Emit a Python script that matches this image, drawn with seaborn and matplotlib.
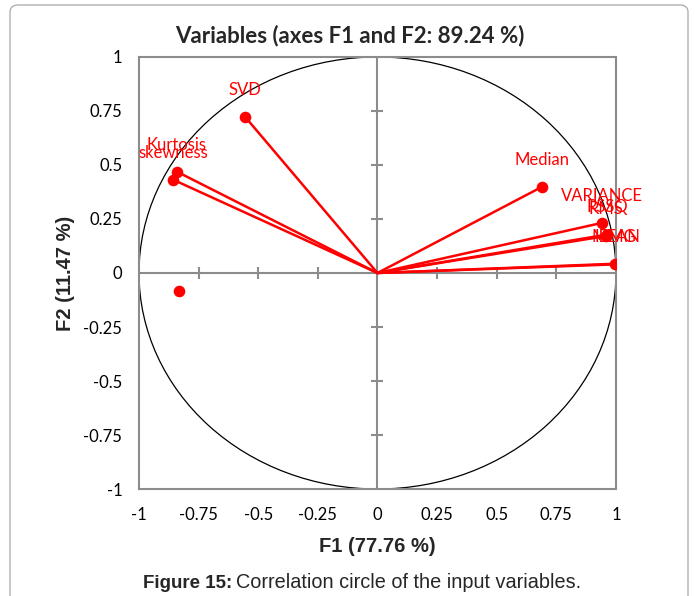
import numpy as np
import pandas as pd
import matplotlib
matplotlib.use("Agg")
import matplotlib.pyplot as plt
import seaborn as sns
from matplotlib.patches import Circle, FancyBboxPatch

# Variable loadings on the first two factors
variables = ["SVD", "Kurtosis", "skewness", "", "Median", "VARIANCE", "RSSQ", "RMS", "MEAN", "IEMG"]
f1 = [-0.556, -0.841, -0.857, -0.832, 0.690, 0.941, 0.963, 0.958, 0.999, 0.997]
f2 = [0.724, 0.469, 0.432, -0.084, 0.399, 0.232, 0.178, 0.171, 0.043, 0.040]
with_vector = [True, True, True, False, True, True, True, True, True, True]

tick_values = [-1, -0.75, -0.5, -0.25, 0, 0.25, 0.5, 0.75, 1]
tick_labels = ["-1", "-0.75", "-0.5", "-0.25", "0", "0.25", "0.5", "0.75", "1"]

df = pd.DataFrame({"variable": variables, "F1": f1, "F2": f2, "vector": with_vector})

sns.set_theme(style="white")
plt.rcParams["font.family"] = ["Liberation Sans", "DejaVu Sans"]
chart_font = ["Lato", "DejaVu Sans"]

fig = plt.figure(figsize=(6.95, 5.96), dpi=100)
ax = fig.add_axes([0.2, 0.1795, 0.6863, 0.7249])

# outer frame around the figure
frame_top = 1 - 5 / 596
frame = FancyBboxPatch((10 / 695, -0.05), 678 / 695, frame_top + 0.05,
                       boxstyle="round,pad=0,rounding_size=0.012",
                       transform=fig.transFigure, fill=False,
                       edgecolor="#b0b0b0", linewidth=1.0, zorder=0)
fig.patches.append(frame)

ax.set_xlim(-1, 1)
ax.set_ylim(-1, 1)

red = "#ff0000"
axis_grey = "#8c8c8c"

# central axes cross with tick marks
ax.axhline(0, color=axis_grey, lw=1.5, zorder=1)
ax.axvline(0, color=axis_grey, lw=1.5, zorder=1)
inner = [t for t in tick_values if t not in (-1, 0, 1)]
ax.plot(inner, [0] * len(inner), linestyle="none", marker="|", markersize=9,
        markeredgewidth=1.5, color=axis_grey, zorder=1)
ax.plot([0] * len(inner), inner, linestyle="none", marker="_", markersize=9,
        markeredgewidth=1.5, color=axis_grey, zorder=1)

# unit correlation circle
ax.add_patch(Circle((0, 0), 1, fill=False, edgecolor="black", lw=0.9, zorder=2))

# vectors from the origin
for _, row in df[df["vector"]].iterrows():
    ax.plot([0, row["F1"]], [0, row["F2"]], color=red, lw=1.8, zorder=3)

sns.scatterplot(data=df, x="F1", y="F2", ax=ax, color=red, s=70,
                edgecolor=red, linewidth=0, zorder=4, legend=False)

for _, row in df.iterrows():
    if row["variable"]:
        ax.annotate(row["variable"], (row["F1"], row["F2"]),
                    xytext=(0, 19.5), textcoords="offset points",
                    ha="center", va="center", color=red, fontsize=12,
                    family=chart_font, zorder=5)

for side in ["left", "right", "top", "bottom"]:
    ax.spines[side].set_visible(True)
    ax.spines[side].set_color(axis_grey)
    ax.spines[side].set_linewidth(1.5)

ax.set_xticks(tick_values)
ax.set_xticklabels(tick_labels, fontsize=12, family=chart_font)
ax.set_yticks(tick_values)
ax.set_yticklabels(tick_labels, fontsize=12, family=chart_font)
ax.tick_params(axis="x", length=0, pad=13, colors="black")
ax.tick_params(axis="y", length=0, pad=12, colors="black")

ax.set_xlabel("F1 (77.76 %)", fontsize=14.5, fontweight="bold", va="center")
ax.xaxis.set_label_coords(0.5, (489 - 546) / 432)
ax.set_ylabel("F2 (11.47 %)", fontsize=14.5, fontweight="bold", va="center")
ax.yaxis.set_label_coords((65 - 139) / 477, 0.5)

fig.text(350 / 695, 1 - 36 / 596, "Variables (axes F1 and F2: 89.24 %)",
         fontsize=16, fontweight="bold", family=chart_font,
         ha="center", va="center")

# caption
fig.text(143 / 695, 1 - 583 / 596, "Figure 15:", fontsize=13.5, fontweight="bold",
         ha="left", va="center")
fig.text(236 / 695, 1 - 583 / 596, "Correlation circle of the input variables.",
         fontsize=14.3, ha="left", va="center")

fig.savefig("out.png", dpi=100)
